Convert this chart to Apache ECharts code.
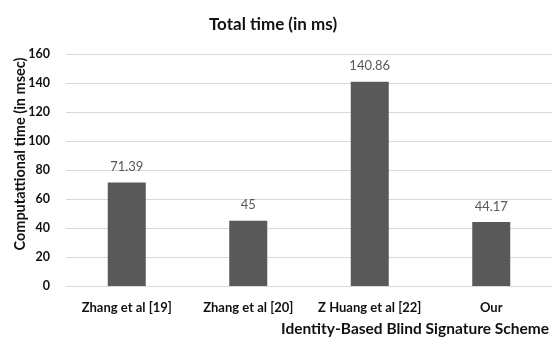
<!DOCTYPE html>
<html><head><meta charset="utf-8">
<script src="https://cdn.jsdelivr.net/npm/echarts@6/dist/echarts.min.js"></script>
<style>html,body{margin:0;padding:0;background:#fff}#c{width:552px;height:341px}</style>
</head><body><div id="c"></div>
<script>
const categories = ['Zhang et al [19]', 'Zhang et al [20]', 'Z Huang et al [22]', 'Our'];
const values = [71.39, 45, 140.86, 44.17];
const yTicks = [0, 20, 40, 60, 80, 100, 120, 140, 160];
const titleText = 'Total time (in ms)';
const xName = 'Identity-Based Blind Signature Scheme';
const yName = 'Computattional time (in msec)';

const FONT = 'Lato';
const chart = echarts.init(document.getElementById('c'), null, {renderer: 'canvas'});
chart.setOption({
  animation: false,
  backgroundColor: '#fff',
  title: {
    text: titleText, left: 268, top: 11, textAlign: 'center',
    textStyle: {fontFamily: FONT, fontWeight: 'bold', fontSize: 17, color: '#111'}
  },
  graphic: [
    {type: 'text', right: 3, top: 321,
     style: {text: xName, fontFamily: FONT, fontWeight: 'bold', fontSize: 15.5, fill: '#111'}},
    {type: 'text', x: 20, y: 154, rotation: Math.PI / 2,
     style: {text: yName, fontFamily: FONT, fontWeight: 'bold', fontSize: 14.5, fill: '#111',
             align: 'center', verticalAlign: 'middle'}}
  ],
  grid: {left: 66, right: -12, top: 54, bottom: 55, containLabel: false},
  xAxis: {
    type: 'category', data: categories,
    axisLine: {show: true, lineStyle: {color: '#d9d9d9'}},
    axisTick: {show: false},
    axisLabel: {interval: 0, fontFamily: FONT, fontWeight: 'bold', fontSize: 13, color: '#111', margin: 15}
  },
  yAxis: {
    type: 'value', min: yTicks[0], max: yTicks[yTicks.length - 1], interval: 20,
    axisLine: {show: false}, axisTick: {show: false},
    splitLine: {lineStyle: {color: '#d9d9d9'}},
    axisLabel: {fontFamily: FONT, fontWeight: 'bold', fontSize: 12.5, color: '#111', margin: 16}
  },
  series: [{
    type: 'bar', data: values, barWidth: 38,
    itemStyle: {color: '#595959'},
    label: {show: true, position: 'top', distance: 9, fontFamily: FONT, fontSize: 13, color: '#595959'}
  }]
});
</script></body></html>
